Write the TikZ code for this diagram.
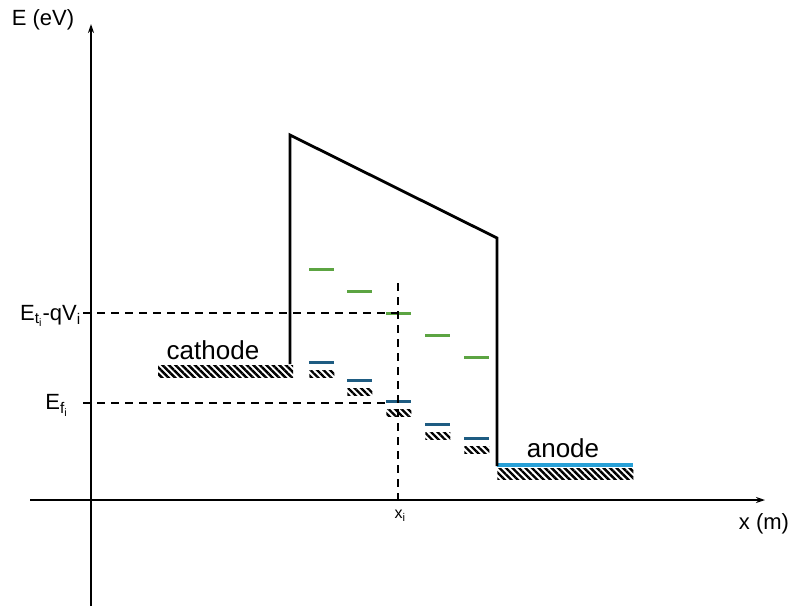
\documentclass[tikz,border=0pt]{standalone}
\usepackage{fontspec}
\setmainfont{Liberation Sans}
\usetikzlibrary{arrows.meta,patterns.meta,positioning}
\definecolor{trapgreen}{RGB}{92,164,66}
\definecolor{fermiblue}{RGB}{30,92,130}
\definecolor{anodeblue}{RGB}{40,160,215}

\begin{document}
\begin{tikzpicture}[x=1pt,y=-1pt,>={Stealth[length=9pt,width=6pt]},semithick]
  \tikzstyle{axis}=[line width=1.4pt,->]
  \tikzstyle{wall}=[line width=2.8pt,line join=miter]
  \tikzstyle{guide}=[line width=1.8pt,dash pattern=on 8pt off 6pt]
  \tikzstyle{hatch}=[pattern={Lines[angle=-45,distance=4.6pt,line width=2.4pt]},inner sep=0pt,anchor=north west]
  \tikzstyle{trap}=[line width=3pt,color=trapgreen]
  \tikzstyle{fermi}=[line width=3pt,color=fermiblue]
  \tikzstyle{lbl}=[font=\fontsize{22}{26}\selectfont,inner sep=0pt]
  \tikzstyle{elec}=[font=\fontsize{26}{30}\selectfont,inner sep=0pt]

  \useasboundingbox (0,0) rectangle (795,606);

  % axes
  \coordinate (ybot) at (91,606);
  \coordinate (ytop) at (91,24);
  \coordinate (xleft) at (30,500);
  \coordinate (xright) at (765,500);
  \draw[axis] (ybot) -- (ytop);
  \draw[axis] (xleft) -- (xright);
  \node[lbl] (Elab) at (43,20) {E (eV)};
  \node[lbl] (xlab) at (764,524) {x (m)};

  % electrodes
  \node[hatch,minimum width=135pt,minimum height=12pt] (cathode base) at (157,364) {};
  \node[elec] (cathode) at (213,350) {cathode};
  \node[hatch,minimum width=136pt,minimum height=11pt] (anode base) at (497,468) {};
  \draw[line width=3.2pt,anodeblue] (497,465) -- (633,465);
  \node[elec] (anode) at (563,448) {anode};

  % barrier
  \coordinate (b1) at (290,135);
  \coordinate (b2) at (497,238);
  \draw[wall] (290,364) -- (b1) -- (b2) -- (497,466);

  % trap levels
  \foreach \x/\g/\f [count=\i] in {309/269/362, 347/291/380, 386/313/401, 425/335/424, 464/357/438}{
    \draw[trap] (\x,\g) -- (\x+25,\g);
    \draw[fermi] (\x,\f) coordinate (f\i) -- (\x+25,\f);
    \node[hatch,minimum width=25pt,minimum height=7pt] (h\i) at (\x,\f+8) {};
  }

  % guides
  \coordinate (xi top) at (398,283);
  \coordinate (xi bot) at (398,503);
  \coordinate (Et dash) at (83,313);
  \coordinate (Ef dash) at (83,403);
  \draw[guide] (xi top) -- (xi bot);
  \draw[guide] (Et dash) -- (Et dash -| xi top);
  \draw[guide] (Ef dash) -- (Ef dash -| f3);
  \node[lbl,anchor=east] (Et) at (81,316) {E\textsubscript{t\textsubscript{i}}-qV\textsubscript{i}};
  \node[lbl,anchor=east] (Ef) at (68,405) {E\textsubscript{f\textsubscript{i}}};
  \node[font=\fontsize{16}{18}\selectfont,inner sep=0pt] (xi) at (400,516) {x\textsubscript{i}};
\end{tikzpicture}
\end{document}
